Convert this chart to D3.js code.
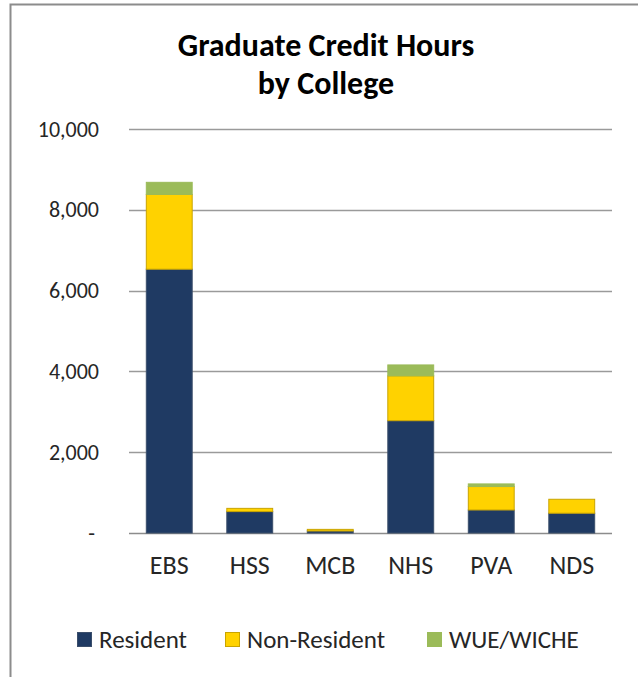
<!DOCTYPE html>
<html lang="en">
<head>
  <meta charset="UTF-8" />
  <title>Graduate Credit Hours by College</title>
  <script src="https://d3js.org/d3.v7.min.js"></script>
  <style>
    body {
      margin: 0;
      background: #ffffff;
      font-family: Carlito, Lato, sans-serif;
    }
    svg {
      display: block;
    }
    svg text {
      font-family: Carlito, Lato, sans-serif;
    }
    .tick-label {
      font-size: 22px;
      fill: #262626;
    }
    .cat-label {
      font-size: 26px;
      fill: #262626;
    }
    .legend-label {
      font-size: 25px;
      fill: #262626;
    }
  </style>
</head>
<body>
  <svg id="chart" width="638" height="677"></svg>

  <script>
    const colleges = ["EBS", "HSS", "MCB", "NHS", "PVA", "NDS"];
    const resident = [6530, 530, 50, 2780, 570, 490];
    const nonResident = [1850, 80, 40, 1110, 580, 345];
    const wueWiche = [300, 0, 0, 270, 65, 0];
    const seriesNames = ["Resident", "Non-Resident", "WUE/WICHE"];
    const seriesColors = ["#1f3a63", "#ffd200", "#9bbb59"];
    const seriesEdges = ["#3b4e6b", "#c9a400", "#9bbb59"];
    const yTicks = [0, 2000, 4000, 6000, 8000, 10000];

    const svg = d3.select("#chart");

    // chart frame
    svg.append("rect")
      .attr("x", 10.5)
      .attr("y", 4.5)
      .attr("width", 640)
      .attr("height", 690)
      .attr("fill", "#fff")
      .attr("stroke", "#8c8c8c")
      .attr("stroke-width", 2);

    const rows = colleges.map((c, i) => ({
      college: c,
      Resident: resident[i],
      "Non-Resident": nonResident[i],
      "WUE/WICHE": wueWiche[i]
    }));
    const stacked = d3.stack().keys(seriesNames)(rows);

    const x = d3.scaleBand()
      .domain(colleges)
      .range([129, 612])
      .paddingInner(0.43)
      .paddingOuter(0.215);

    const y = d3.scaleLinear()
      .domain([0, 10000])
      .range([533, 129]);

    // title
    const title = svg.append("text")
      .attr("text-anchor", "middle")
      .attr("font-size", 32)
      .attr("font-weight", "bold")
      .attr("fill", "#000");
    title.append("tspan").attr("x", 326).attr("y", 56).text("Graduate Credit Hours");
    title.append("tspan").attr("x", 326).attr("y", 94).text("by College");

    // gridlines
    svg.append("g")
      .selectAll("line")
      .data(yTicks)
      .join("line")
      .attr("x1", 129)
      .attr("x2", 612)
      .attr("y1", d => Math.round(y(d)) + 0.5)
      .attr("y2", d => Math.round(y(d)) + 0.5)
      .attr("stroke", d => d === 0 ? "#8c8c8c" : "#9a9a9a")
      .attr("stroke-width", 1.5);

    // y axis labels
    const yAxis = d3.axisLeft(y)
      .tickValues(yTicks)
      .tickSize(0)
      .tickPadding(0)
      .tickFormat(d => d === 0 ? "-" : d3.format(",")(d));
    const yg = svg.append("g")
      .attr("transform", "translate(99,0)")
      .call(yAxis)
      .attr("font-family", null)
      .attr("font-size", null);
    yg.select(".domain").remove();
    yg.selectAll("text")
      .attr("class", "tick-label")
      .attr("fill", null)
      .attr("dx", d => d === 0 ? -4 : 0);

    // bars
    svg.append("g")
      .selectAll("g")
      .data(stacked)
      .join("g")
      .attr("fill", (d, i) => seriesColors[i])
      .attr("stroke", (d, i) => seriesEdges[i])
      .attr("stroke-width", 1)
      .selectAll("rect")
      .data(d => d.map(v => ({ v, college: v.data.college })))
      .join("rect")
      .filter(d => d.v[1] - d.v[0] > 0)
      .attr("x", d => x(d.college))
      .attr("width", x.bandwidth())
      .attr("y", d => y(d.v[1]))
      .attr("height", d => y(d.v[0]) - y(d.v[1]));

    // x axis labels
    const xAxis = d3.axisBottom(x).tickSize(0).tickPadding(0);
    const xg = svg.append("g")
      .attr("transform", "translate(0,556)")
      .call(xAxis)
      .attr("font-family", null)
      .attr("font-size", null);
    xg.select(".domain").remove();
    xg.selectAll("text")
      .attr("class", "cat-label")
      .attr("fill", null);

    // legend
    const legendX = [77, 225, 427];
    const legend = svg.append("g")
      .selectAll("g")
      .data(seriesNames)
      .join("g")
      .attr("transform", (d, i) => `translate(${legendX[i]},632)`);
    legend.append("rect")
      .attr("x", 0.5)
      .attr("y", 0.5)
      .attr("width", 14)
      .attr("height", 14)
      .attr("fill", (d, i) => seriesColors[i])
      .attr("stroke", (d, i) => seriesEdges[i]);
    legend.append("text")
      .attr("class", "legend-label")
      .attr("x", 22)
      .attr("y", 15.5)
      .text(d => d);
  </script>
</body>
</html>
